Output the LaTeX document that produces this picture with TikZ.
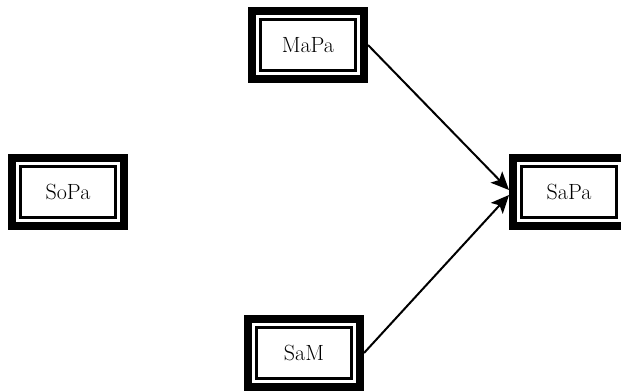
\documentclass[tikz,border=0pt]{standalone}
\usetikzlibrary{arrows.meta,fit}

\begin{document}
\begin{tikzpicture}[x=1pt,y=1pt,
	inbox/.style={draw, line width=2.5pt, minimum width=95pt, minimum height=51pt, font=\fontsize{22}{26}\selectfont},
	frame/.style={draw, line width=8pt, inner sep=7.25pt},
	link/.style={line width=2pt, -{Stealth[length=18pt,width=16pt,inset=4pt]}}]
	\useasboundingbox (0,0) rectangle (621,-391);
	\node [inbox] (ma) at (308,-45) {MaPa};
	\node [inbox] (so) at (68,-192) {SoPa};
	\node [inbox] (sa) at (569,-192) {SaPa};
	\node [inbox] (sm) at (304,-353) {SaM};
	\node [frame, fit=(ma)] (maf) {};
	\node [frame, fit=(so)] (sof) {};
	\node [frame, fit=(sa)] (saf) {};
	\node [frame, fit=(sm)] (smf) {};
	\draw [link] (maf.east) -- ([yshift=2pt]saf.west);
	\draw [link] (smf.east) -- ([yshift=-3pt]saf.west);
\end{tikzpicture}
\end{document}
